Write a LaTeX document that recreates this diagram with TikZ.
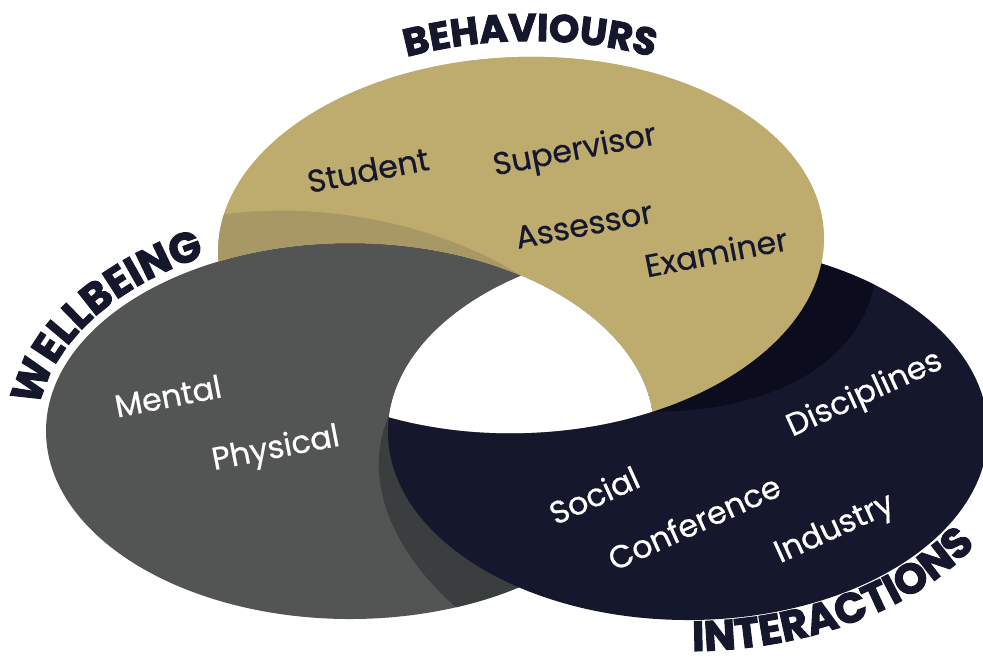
\documentclass[tikz,border=0pt]{standalone}
\usepackage{fontspec}
\setmainfont{Poppins}
\newfontfamily\headfont{Poppins}[BoldFeatures={FakeBold=2.5}]
\newfontfamily\labelfont{Poppins}[FakeBold=0.6]
\usetikzlibrary{decorations.text}

\definecolor{gold}{HTML}{BEAC6F}
\definecolor{golddark}{HTML}{A89865}
\definecolor{slate}{HTML}{535554}
\definecolor{slatedark}{HTML}{3B3E3E}
\definecolor{navy}{HTML}{15172D}
\definecolor{navydark}{HTML}{0B0D1F}

% the three ovals (pixel units, y pointing down)
\newcommand{\goldoval}{{[rotate around={2:(521,245)}] (521,245) ellipse [x radius=303, y radius=188]}}
\newcommand{\slateoval}{(350,431) ellipse [x radius=304, y radius=188]}
\newcommand{\navyoval}{(688,432) ellipse [x radius=300, y radius=188]}
% shades: each oval turned about its corner of the hole
\newcommand{\goldshade}{{[rotate around={-18:(653,415)}, rotate around={2:(521,245)}] (521,245) ellipse [x radius=303, y radius=188]}}
\newcommand{\slateshade}{{[rotate around={-9:(521,276)}] (350,431) ellipse [x radius=304, y radius=188]}}
\newcommand{\navyshade}{{[rotate around={-16:(390,415)}] (688,432) ellipse [x radius=300, y radius=188]}}
\newcommand{\bigbox}{(-100,-100) rectangle (1100,800)}

\begin{document}
\begin{tikzpicture}[x=0.02cm, y=-0.02cm,
    label/.style={font=\labelfont\fontsize{18}{18}\selectfont, inner sep=0pt},
    title/.style 2 args={decorate, decoration={text along path, text align=center, text color=navy,
      text={|\headfont\bfseries\fontsize{#1}{#1}\selectfont|#2}}}]
  \useasboundingbox (0,0) rectangle (983,657);
  % gold and grey ovals
  \fill[gold] \goldoval;
  \fill[slate] \slateoval;
  % navy shade on grey
  \begin{scope}
    \clip \slateoval;
    \clip \navyshade;
    \fill[slatedark, even odd rule] \bigbox \goldoval;
  \end{scope}
  % navy oval, gold shade on it
  \fill[navy] \navyoval;
  \begin{scope}
    \clip \navyoval;
    \clip \goldshade;
    \fill[navydark, even odd rule] \bigbox \slateoval;
  \end{scope}
  % gold goes over navy
  \begin{scope}
    \clip \goldoval;
    \fill[gold, even odd rule] \bigbox \slateoval;
  \end{scope}
  % grey shade on gold
  \begin{scope}
    \clip \goldoval;
    \clip \slateshade;
    \fill[golddark, even odd rule] \bigbox \slateoval \navyoval;
  \end{scope}
  % hole in the middle
  \begin{scope}
    \clip \goldoval;
    \clip \slateoval;
    \fill[white] \navyoval;
  \end{scope}

  % titles round the ovals
  \path[shift={(530,245)}, title={22}{BEHAVIOURS}]
    (-125:318 and 204) arc[start angle=-125, end angle=-55, x radius=318, y radius=204];
  \path[shift={(350,431)}, title={24}{WELLBEING}]
    (-183:313 and 197) arc[start angle=-183, end angle=-111, x radius=313, y radius=197];
  \path[shift={(688,432)}, title={24}{INTERACTIONS}]
    (100:335 and 219) arc[start angle=100, end angle=16, x radius=335, y radius=219];

  % behaviours
  \node[label, text=navy, rotate=11] (student) at (368,170) {Student};
  \node[label, text=navy, rotate=11] (supervisor) at (575,152) {Supervisor};
  \node[label, text=navy, rotate=11] (assessor) at (584,225) {Assessor};
  \node[label, text=navy, rotate=11] (examiner) at (716,252) {Examiner};
  % wellbeing
  \node[label, text=white, rotate=11] (mental) at (168,396) {Mental};
  \node[label, text=white, rotate=11] (physical) at (276,450) {Physical};
  % interactions
  \node[label, text=white, rotate=24.5] (social) at (594,495) {Social};
  \node[label, text=white, rotate=24.5] (conference) at (694,522) {Conference};
  \node[label, text=white, rotate=24.5] (disciplines) at (865,395) {Disciplines};
  \node[label, text=white, rotate=24.5] (industry) at (835,530) {Industry};
\end{tikzpicture}
\end{document}
